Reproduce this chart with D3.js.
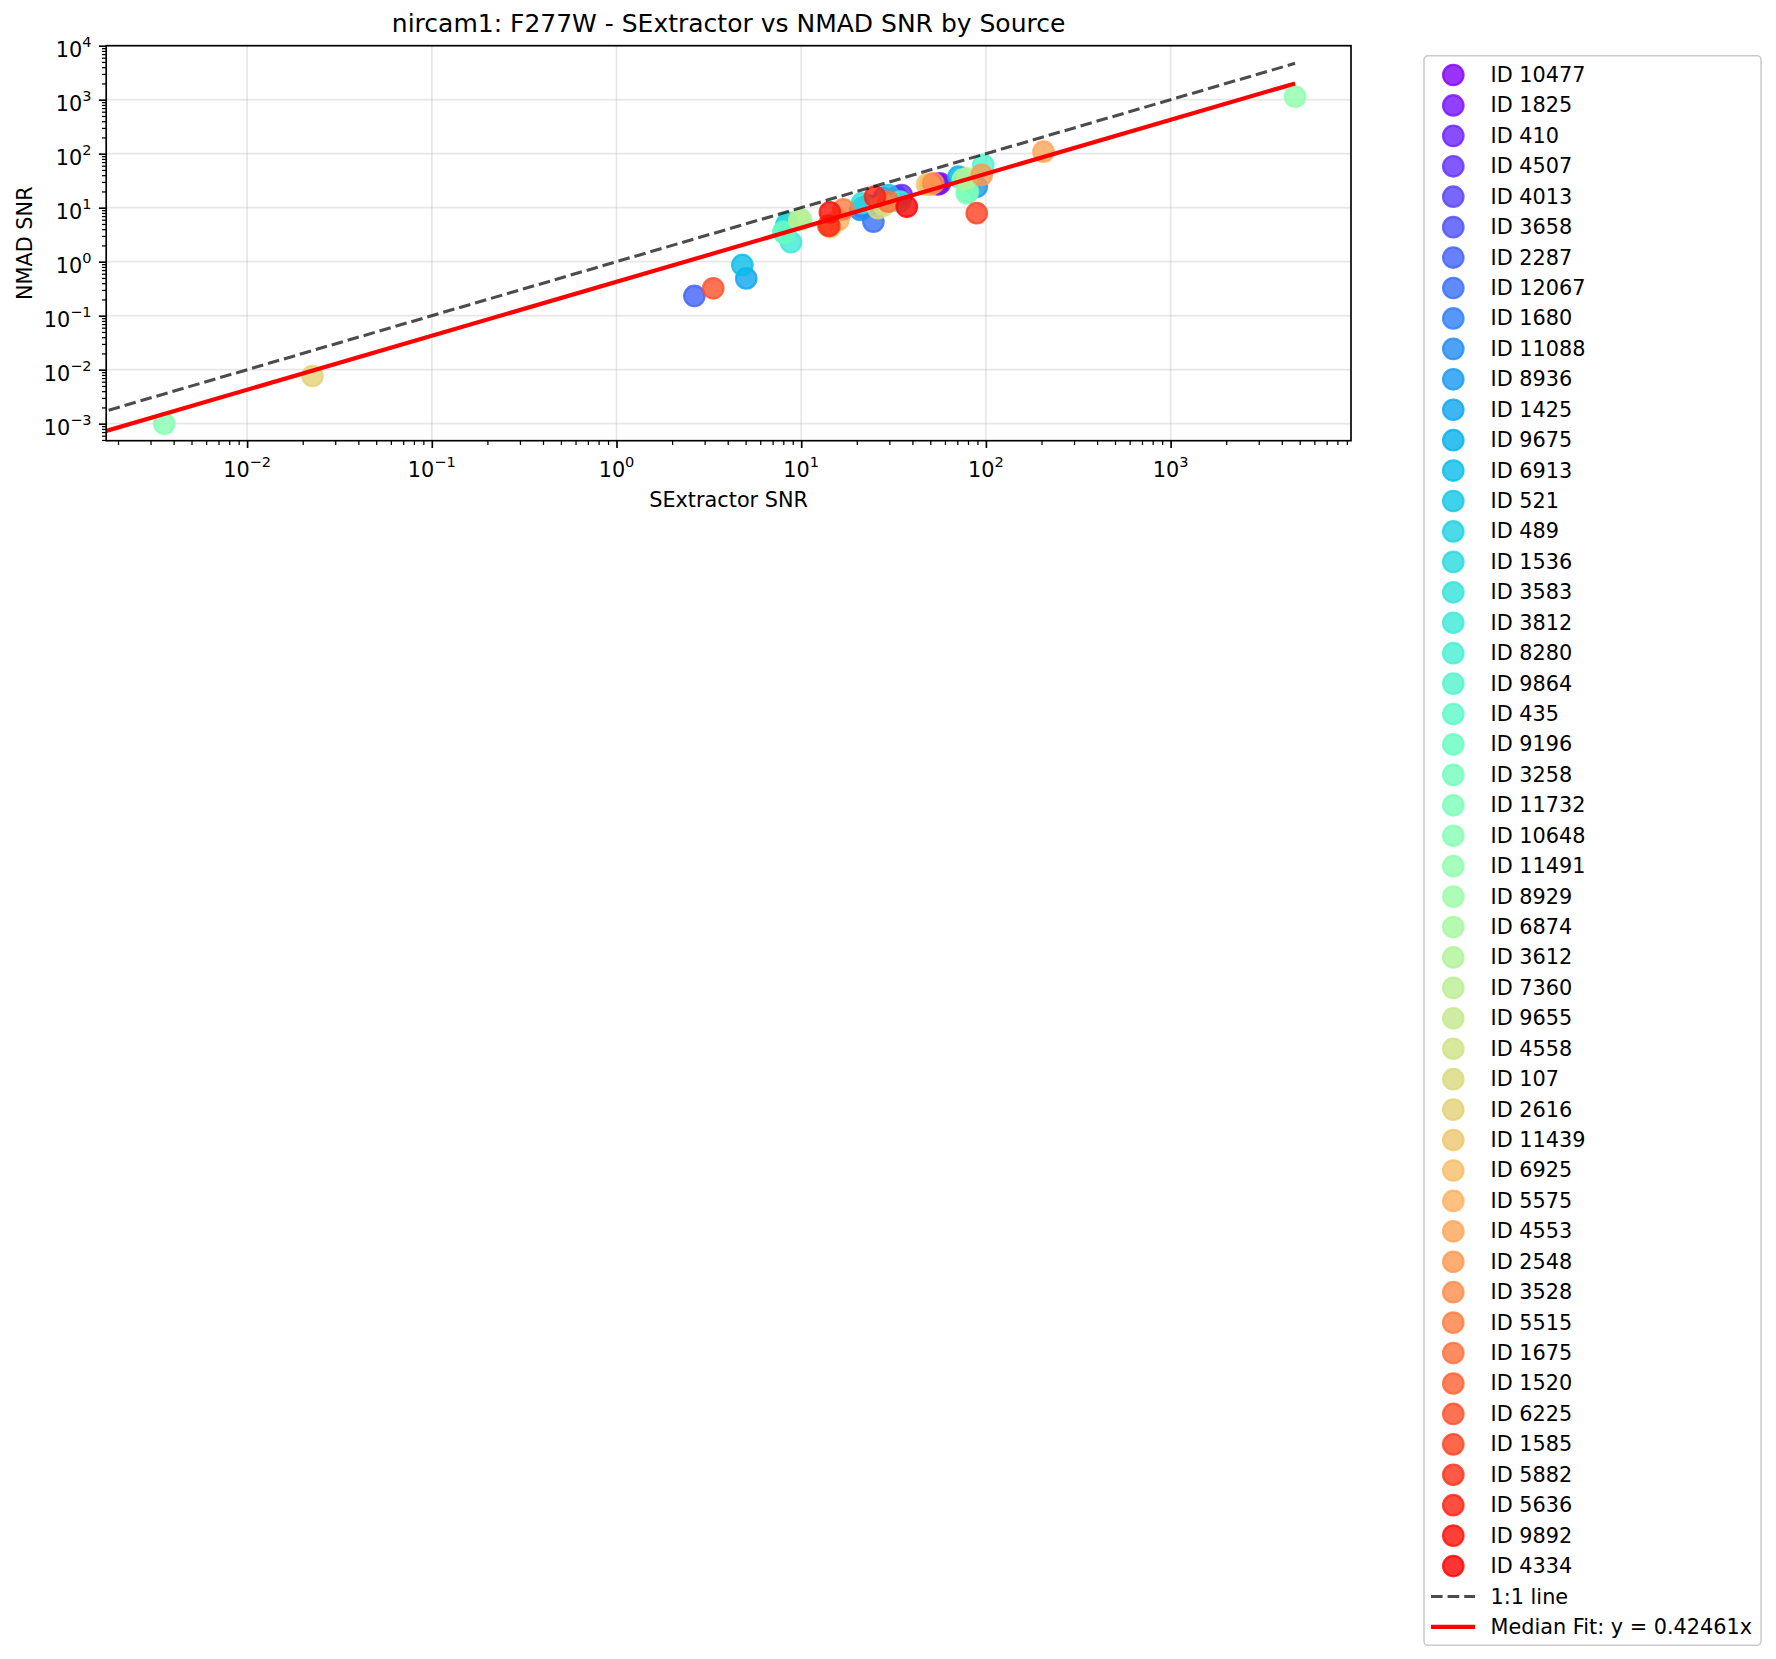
<!DOCTYPE html>
<html>
<head>
<meta charset="utf-8">
<script src="https://cdn.jsdelivr.net/npm/d3@7"></script>
<style>
  html, body { margin: 0; padding: 0; background: #fff; }
  svg { display: block; font-family: "DejaVu Sans", sans-serif; }
</style>
</head>
<body>
<svg id="chart" width="1776" height="1659"></svg>
<script>
// ---------- data ----------
const ids = ["10477","1825","410","4507","4013","3658","2287","12067","1680","11088",
  "8936","1425","9675","6913","521","489","1536","3583","3812","8280",
  "9864","435","9196","3258","11732","10648","11491","8929","6874","3612",
  "7360","9655","4558","107","2616","11439","6925","5575","4553","2548",
  "3528","5515","1675","1520","6225","1585","5882","5636","9892","4334"];
const sextractorSNR = [55, 56.4, 33, 35, 28, 23, 2.64, 24.6, 21.5, 20.9,
  89.2, 5.04, 71, 4.8, 29.6, 8.3, 8.45, 21.3, 8.8, 34.3,
  96.8, 8.0, 8.1, 80, 78.7, 0.00356, 4720, 75, 10, 78.7,
  9.77, 28, 14.4, 26.1, 0.0226, 48, 49.8, 15.9, 205, 94.9,
  51.9, 16.9, 29.6, 14, 3.34, 89.2, 14.2, 25.1, 14.3, 37.3];
const nmadSNR = [27, 28.3, 16, 17.2, 15, 11, 0.232, 5.5, 10, 9.1,
  24.5, 0.49, 37.5, 0.87, 17.2, 4.8, 5.27, 12.1, 2.29, 12.9,
  61.8, 3.6, 3.36, 20, 18.5, 0.001, 1137, 33, 6, 35,
  5.9, 11, 4.3, 9.8, 0.00764, 27, 26.3, 5.9, 109, 40.4,
  28.3, 9.3, 12.9, 4.7, 0.321, 7.9, 4.6, 16, 8.2, 10.4];
const fitSlope = 0.42461;
const oneToOneX = [0.00178, 4720];
const fitX = [0.001726, 4720];
const xDomain = [Math.pow(10, -2.7629), Math.pow(10, 3.9767)];
const yDomain = [Math.pow(10, -3.315), 1e4];
const xMajorExp = [-2, -1, 0, 1, 2, 3];
const yMajorExp = [-3, -2, -1, 0, 1, 2, 3, 4];
const titleText = "nircam1: F277W - SExtractor vs NMAD SNR by Source";
const xLabelText = "SExtractor SNR";
const yLabelText = "NMAD SNR";
const oneToOneLabel = "1:1 line";
const fitLabel = "Median Fit: y = 0.42461x";

// ---------- layout ----------
const plot = { left: 106.2, right: 1351, top: 45.7, bottom: 440.7 };
const FS = 20.8;
const svg = d3.select("#chart");

const x = d3.scaleLog().domain(xDomain).range([plot.left, plot.right]);
const y = d3.scaleLog().domain(yDomain).range([plot.bottom, plot.top]);

function rainbow(t) {
  const c = v => Math.max(0, Math.min(1, v));
  const r = c(Math.abs(2 * t - 0.5)), g = c(Math.sin(Math.PI * t)), b = c(Math.cos(Math.PI * t / 2));
  return d3.rgb(r * 255, g * 255, b * 255).formatHex();
}
const N = ids.length;
const colors = ids.map((d, i) => rainbow(i / (N - 1)));

// clip
svg.append("defs").append("clipPath").attr("id", "clip").append("rect")
  .attr("x", plot.left).attr("y", plot.top)
  .attr("width", plot.right - plot.left).attr("height", plot.bottom - plot.top);

// grid
const grid = svg.append("g");
xMajorExp.forEach(e => {
  grid.append("line").attr("x1", x(Math.pow(10, e))).attr("x2", x(Math.pow(10, e)))
    .attr("y1", plot.top).attr("y2", plot.bottom)
    .attr("stroke", "#b0b0b0").attr("stroke-opacity", 0.3).attr("stroke-width", 1.67);
});
yMajorExp.forEach(e => {
  grid.append("line").attr("y1", y(Math.pow(10, e))).attr("y2", y(Math.pow(10, e)))
    .attr("x1", plot.left).attr("x2", plot.right)
    .attr("stroke", "#b0b0b0").attr("stroke-opacity", 0.3).attr("stroke-width", 1.67);
});

// points
const pts = svg.append("g").attr("clip-path", "url(#clip)");
ids.forEach((id, i) => {
  pts.append("circle")
    .attr("cx", x(sextractorSNR[i])).attr("cy", y(nmadSNR[i])).attr("r", 10.3)
    .attr("fill", colors[i]).attr("fill-opacity", 0.8)
    .attr("stroke", colors[i]).attr("stroke-opacity", 0.8).attr("stroke-width", 2.1);
});

// lines
const lines = svg.append("g").attr("clip-path", "url(#clip)");
const lineGen = d3.line().x(d => x(d[0])).y(d => y(d[1]));
lines.append("path").datum(oneToOneX.map(v => [v, v])).attr("d", lineGen)
  .attr("fill", "none").attr("stroke", "#000").attr("stroke-opacity", 0.7)
  .attr("stroke-width", 3.1).attr("stroke-dasharray", "11.6,5");
lines.append("path").datum(fitX.map(v => [v, v * fitSlope])).attr("d", lineGen)
  .attr("fill", "none").attr("stroke", "#ff0000").attr("stroke-width", 4.17);

// axes ticks
function minorVals(dom) {
  const out = [];
  const lo = Math.floor(Math.log10(dom[0])), hi = Math.ceil(Math.log10(dom[1]));
  for (let e = lo; e <= hi; e++) for (let k = 2; k <= 9; k++) {
    const v = k * Math.pow(10, e);
    if (v >= dom[0] && v <= dom[1]) out.push(v);
  }
  return out;
}
const xAxisMaj = d3.axisBottom(x).tickValues(xMajorExp.map(e => Math.pow(10, e))).tickSize(7.3).tickFormat("");
const xAxisMin = d3.axisBottom(x).tickValues(minorVals(xDomain)).tickSize(4.2).tickFormat("");
const yAxisMaj = d3.axisLeft(y).tickValues(yMajorExp.map(e => Math.pow(10, e))).tickSize(7.3).tickFormat("");
const yAxisMin = d3.axisLeft(y).tickValues(minorVals(yDomain)).tickSize(4.2).tickFormat("");

function styleAxis(g, w) {
  g.select(".domain").remove();
  g.selectAll(".tick line").attr("stroke", "#000").attr("stroke-width", w);
}
svg.append("g").attr("transform", `translate(0,${plot.bottom})`).call(xAxisMin).call(g => styleAxis(g, 1.25));
svg.append("g").attr("transform", `translate(0,${plot.bottom})`).call(xAxisMaj).call(g => styleAxis(g, 1.67));
svg.append("g").attr("transform", `translate(${plot.left},0)`).call(yAxisMin).call(g => styleAxis(g, 1.25));
svg.append("g").attr("transform", `translate(${plot.left},0)`).call(yAxisMaj).call(g => styleAxis(g, 1.67));

// spines
svg.append("rect").attr("x", plot.left).attr("y", plot.top)
  .attr("width", plot.right - plot.left).attr("height", plot.bottom - plot.top)
  .attr("fill", "none").attr("stroke", "#000").attr("stroke-width", 1.67);

// tick labels with superscripts
function expLabel(g, e, anchor) {
  const t = g.append("text").attr("text-anchor", anchor).attr("font-size", FS).attr("fill", "#000");
  t.append("tspan").text("10");
  t.append("tspan").attr("font-size", FS * 0.7).attr("dy", -10)
    .text(e < 0 ? "\u2212" + Math.abs(e) : String(e));
  return t;
}
xMajorExp.forEach(e => {
  const g = svg.append("g").attr("transform", `translate(${x(Math.pow(10, e))},476.5)`);
  expLabel(g, e, "middle");
});
yMajorExp.forEach(e => {
  const g = svg.append("g").attr("transform", `translate(91.6,${y(Math.pow(10, e)) + 11})`);
  expLabel(g, e, "end");
});

// labels
svg.append("text").attr("x", (plot.left + plot.right) / 2).attr("y", 32)
  .attr("text-anchor", "middle").attr("font-size", 25).text(titleText);
svg.append("text").attr("x", (plot.left + plot.right) / 2).attr("y", 507)
  .attr("text-anchor", "middle").attr("font-size", FS).text(xLabelText);
svg.append("text").attr("transform", `translate(32,${(plot.top + plot.bottom) / 2}) rotate(-90)`)
  .attr("text-anchor", "middle").attr("font-size", FS).text(yLabelText);

// legend
const leg = { x: 1424, y: 55.7, w: 337, h: 1589.6, row0: 75, dy: 30.43, mx: 1453.3, tx: 1490.5 };
svg.append("rect").attr("x", leg.x).attr("y", leg.y).attr("width", leg.w).attr("height", leg.h)
  .attr("rx", 4).attr("fill", "#fff").attr("fill-opacity", 0.8)
  .attr("stroke", "#cccccc").attr("stroke-width", 1.6);
const lg = svg.append("g");
ids.forEach((id, i) => {
  const cy = leg.row0 + i * leg.dy;
  lg.append("circle").attr("cx", leg.mx).attr("cy", cy).attr("r", 10.3)
    .attr("fill", colors[i]).attr("fill-opacity", 0.8)
    .attr("stroke", colors[i]).attr("stroke-opacity", 0.8).attr("stroke-width", 2.1);
  lg.append("text").attr("x", leg.tx).attr("y", cy + 7).attr("font-size", FS).text("ID " + id);
});
{
  const cy = leg.row0 + N * leg.dy;
  lg.append("line").attr("x1", 1431).attr("x2", 1475).attr("y1", cy).attr("y2", cy)
    .attr("stroke", "#000").attr("stroke-opacity", 0.7).attr("stroke-width", 3.1)
    .attr("stroke-dasharray", "11.6,5");
  lg.append("text").attr("x", leg.tx).attr("y", cy + 7).attr("font-size", FS).text(oneToOneLabel);
  const cy2 = leg.row0 + (N + 1) * leg.dy;
  lg.append("line").attr("x1", 1431).attr("x2", 1475).attr("y1", cy2).attr("y2", cy2)
    .attr("stroke", "#ff0000").attr("stroke-width", 4.17);
  lg.append("text").attr("x", leg.tx).attr("y", cy2 + 7).attr("font-size", FS).text(fitLabel);
}
</script>
</body>
</html>
